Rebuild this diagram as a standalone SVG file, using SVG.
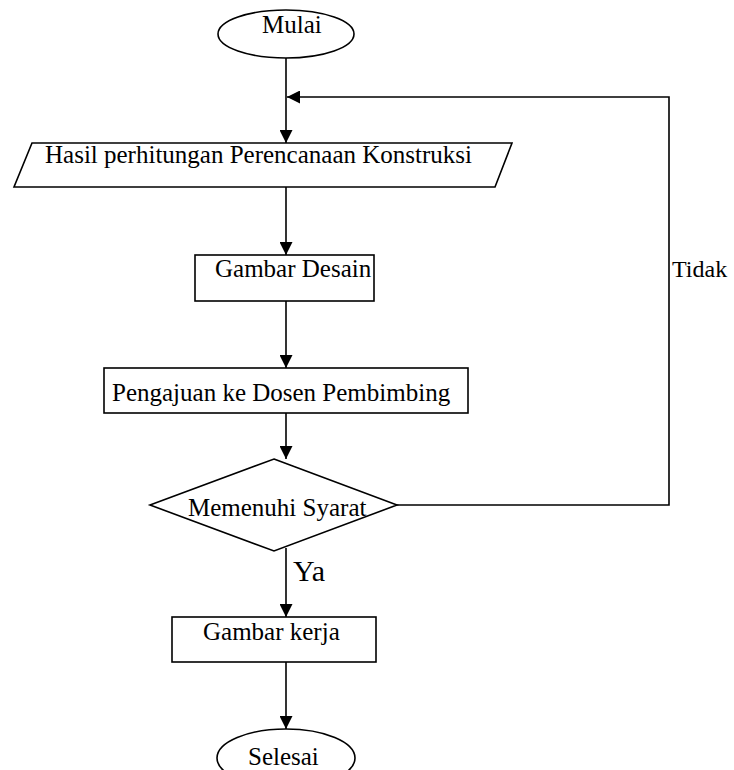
<svg xmlns="http://www.w3.org/2000/svg" width="734" height="770" viewBox="0 0 734 770">
  <style>
    .shape { fill: #ffffff; stroke: #000000; stroke-width: 1.6; }
    .line { fill: none; stroke: #000000; stroke-width: 1.6; }
    .label { font-family: "Liberation Serif", "Times New Roman", serif; font-size: 25px; fill: #000000; }
  </style>
  <defs>
    <marker id="arrow" viewBox="0 0 13 13" refX="13" refY="6.5" markerWidth="13" markerHeight="13" markerUnits="userSpaceOnUse" orient="auto">
      <path d="M0,0 L13,6.5 L0,13 Z" fill="#000000"/>
    </marker>
  </defs>
  <rect width="734" height="770" fill="#ffffff"/>

  <!-- connectors -->
  <g id="connectors">
    <line class="line" x1="286" y1="52" x2="286" y2="143" marker-end="url(#arrow)"/>
    <line class="line" x1="286" y1="187" x2="286" y2="255" marker-end="url(#arrow)"/>
    <line class="line" x1="286" y1="301" x2="286" y2="368" marker-end="url(#arrow)"/>
    <line class="line" x1="286" y1="413" x2="286" y2="459" marker-end="url(#arrow)"/>
    <line class="line" x1="286" y1="548" x2="286" y2="617" marker-end="url(#arrow)"/>
    <line class="line" x1="286" y1="662" x2="286" y2="729" marker-end="url(#arrow)"/>
    <polyline class="line" points="397,505 669,505 669,97 287,97" marker-end="url(#arrow)"/>
    <text class="label" x="293" y="581" style="font-size:30px">Ya</text>
    <text class="label" x="672" y="277" style="font-size:24px">Tidak</text>
  </g>

  <g id="start">
    <ellipse class="shape" cx="286" cy="34" rx="68" ry="24"/>
    <text class="label" x="262" y="33">Mulai</text>
  </g>

  <g id="input-data">
    <polygon class="shape" points="32,143 512,143 495,187 14,187"/>
    <text class="label" x="45" y="163">Hasil perhitungan Perencanaan Konstruksi</text>
  </g>

  <g id="gambar-desain">
    <rect class="shape" x="195" y="255" width="179" height="46"/>
    <text class="label" x="215" y="277">Gambar Desain</text>
  </g>

  <g id="pengajuan">
    <rect class="shape" x="104" y="368" width="364" height="45"/>
    <text class="label" x="112" y="401">Pengajuan ke Dosen Pembimbing</text>
  </g>

  <g id="memenuhi-syarat">
    <polygon class="shape" points="274,459 397,505 274,551 150,505"/>
    <text class="label" x="188" y="516">Memenuhi Syarat</text>
  </g>

  <g id="gambar-kerja">
    <rect class="shape" x="172" y="617" width="204" height="45"/>
    <text class="label" x="203" y="640">Gambar kerja</text>
  </g>

  <g id="end">
    <ellipse class="shape" cx="286" cy="758" rx="69" ry="29"/>
    <text class="label" x="248" y="765">Selesai</text>
  </g>
</svg>
